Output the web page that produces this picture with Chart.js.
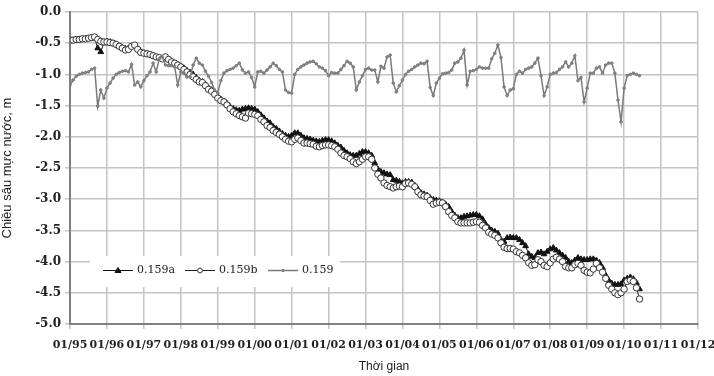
<!DOCTYPE html>
<html>
<head>
<meta charset="utf-8">
<script src="https://cdn.jsdelivr.net/npm/chart.js@4.4.1/dist/chart.umd.min.js"></script>
<style>
  html, body { margin: 0; padding: 0; background: #fff; }
  #wrap { width: 714px; height: 376px; position: relative; }
</style>
</head>
<body>
<div id="wrap"><canvas id="chart" width="714" height="376"></canvas></div>
<script>
// monthly readings, first value = 01/1995
const START_YEAR = 1995;
const xTickLabels = ['01/95', '01/96', '01/97', '01/98', '01/99', '01/00', '01/01', '01/02', '01/03',
  '01/04', '01/05', '01/06', '01/07', '01/08', '01/09', '01/10', '01/11', '01/12'];
const seriesNames = ['0.159a', '0.159b', '0.159'];

const level159a = [
  -0.46, -0.46, -0.45, -0.44, -0.44, -0.43, -0.43, -0.42, -0.42, -0.58, -0.64, -0.50,
  -0.47, -0.48, -0.50, -0.52, -0.55, -0.57, -0.59, -0.58, -0.55, -0.54, -0.59, -0.64,
  -0.66, -0.67, -0.68, -0.70, -0.72, -0.73, -0.75, -0.74, -0.76, -0.79, -0.82, -0.84,
  -0.87, -0.90, -0.94, -0.97, -1.00, -1.05, -1.10, -1.12, -1.16, -1.22, -1.25, -1.30,
  -1.35, -1.40, -1.43, -1.47, -1.52, -1.55, -1.57, -1.58, -1.56, -1.55, -1.54, -1.55,
  -1.56, -1.60, -1.65, -1.70, -1.75, -1.78, -1.84, -1.87, -1.91, -1.95, -1.98, -2.00,
  -1.98, -1.94, -1.94, -1.98, -2.02, -2.03, -2.04, -2.06, -2.07, -2.08, -2.06, -2.05,
  -2.05, -2.07, -2.10, -2.14, -2.17, -2.22, -2.26, -2.29, -2.30, -2.30, -2.27, -2.24,
  -2.24, -2.26, -2.30, -2.42, -2.52, -2.56, -2.58, -2.60, -2.61, -2.69, -2.70, -2.72,
  -2.74, -2.72, -2.72, -2.73, -2.78, -2.84, -2.90, -2.92, -2.94, -2.98, -3.01, -3.02,
  -3.03, -3.05, -3.08, -3.12, -3.20, -3.26, -3.30, -3.30, -3.28, -3.27, -3.26, -3.25,
  -3.25, -3.27, -3.32, -3.40, -3.46, -3.50, -3.52, -3.55, -3.65, -3.68, -3.62, -3.61,
  -3.62, -3.62, -3.65, -3.70, -3.75, -3.88, -3.92, -3.94, -3.86, -3.85, -3.88, -3.84,
  -3.80, -3.78, -3.82, -3.86, -3.90, -3.94, -4.00, -4.02, -3.98, -3.94, -3.96, -3.97,
  -3.97, -3.96, -3.96, -3.98, -4.02, -4.10, -4.22, -4.30, -4.35, -4.37, -4.37, -4.36,
  -4.30, -4.27, -4.25, -4.28, -4.34, -4.44
];

const level159b = [
  -0.45, -0.45, -0.44, -0.44, -0.43, -0.43, -0.42, -0.41, -0.40, -0.44, -0.47, -0.48,
  -0.48, -0.49, -0.50, -0.52, -0.55, -0.58, -0.61, -0.60, -0.55, -0.53, -0.60, -0.65,
  -0.66, -0.67, -0.68, -0.70, -0.72, -0.73, -0.75, -0.72, -0.76, -0.80, -0.82, -0.85,
  -0.88, -0.92, -0.96, -1.00, -1.04, -1.08, -1.12, -1.13, -1.18, -1.24, -1.27, -1.32,
  -1.38, -1.42, -1.44, -1.49, -1.55, -1.60, -1.63, -1.66, -1.68, -1.70, -1.62, -1.63,
  -1.64, -1.66, -1.72, -1.76, -1.82, -1.85, -1.90, -1.93, -1.96, -2.00, -2.04, -2.07,
  -2.08, -2.04, -2.02, -2.06, -2.10, -2.10, -2.11, -2.12, -2.15, -2.16, -2.14, -2.13,
  -2.13, -2.14, -2.16, -2.20, -2.26, -2.30, -2.32, -2.35, -2.40, -2.43, -2.40, -2.36,
  -2.32, -2.32, -2.36, -2.50, -2.60, -2.66, -2.74, -2.78, -2.80, -2.82, -2.80, -2.79,
  -2.80, -2.75, -2.74, -2.76, -2.80, -2.88, -2.93, -2.95, -2.96, -3.02, -3.08, -3.06,
  -3.05, -3.06, -3.12, -3.20, -3.26, -3.30, -3.36, -3.38, -3.38, -3.38, -3.38, -3.37,
  -3.36, -3.37, -3.42, -3.46, -3.53, -3.56, -3.58, -3.62, -3.70, -3.77, -3.79, -3.79,
  -3.80, -3.84, -3.86, -3.90, -3.94, -4.02, -4.06, -4.05, -3.97, -4.00, -4.06, -4.08,
  -4.02, -3.96, -3.93, -3.96, -4.00, -4.08, -4.10, -4.10, -4.05, -4.03, -4.06, -4.14,
  -4.17, -4.18, -4.12, -4.03, -4.10, -4.17, -4.27, -4.38, -4.44, -4.50, -4.53, -4.50,
  -4.44, -4.32, -4.30, -4.32, -4.42, -4.60
];

const level159 = [
  -1.17, -1.09, -1.03, -1.00, -0.98, -0.97, -0.96, -0.92, -0.90, -1.51, -1.25, -1.38,
  -1.22, -1.14, -1.06, -1.00, -0.97, -0.95, -0.94, -0.96, -0.84, -1.17, -1.12, -1.20,
  -1.10, -1.02, -0.96, -0.82, -0.96, -0.75, -0.72, -0.85, -0.86, -0.86, -0.88, -1.17,
  -0.96, -0.98, -1.04, -1.04, -0.85, -0.74, -0.82, -0.85, -0.95, -1.03, -1.13, -1.25,
  -1.30, -1.10, -0.98, -0.94, -0.92, -0.90, -0.86, -0.82, -0.93, -0.98, -0.96, -1.05,
  -1.20, -0.96, -0.95, -0.98, -0.93, -0.88, -0.82, -0.86, -0.92, -0.96, -1.25, -1.29,
  -1.30, -1.00, -0.92, -0.88, -0.85, -0.82, -0.80, -0.79, -0.83, -0.88, -0.90, -0.94,
  -1.02, -0.97, -0.98, -0.98, -0.92, -0.86, -0.79, -0.82, -0.88, -1.25, -1.12, -1.02,
  -0.92, -0.90, -0.93, -0.93, -1.12, -0.87, -0.90, -0.72, -0.69, -1.14, -1.28, -1.18,
  -1.09, -1.00, -0.95, -0.92, -0.88, -0.85, -0.82, -0.83, -0.79, -1.21, -1.34, -1.14,
  -1.06, -0.99, -0.98, -0.97, -0.93, -0.82, -0.80, -0.74, -0.61, -1.17, -0.95, -0.94,
  -0.92, -0.88, -0.90, -0.90, -0.90, -0.75, -0.66, -0.53, -0.73, -1.20, -1.34, -1.25,
  -1.23, -1.00, -0.95, -0.98, -0.92, -0.90, -0.88, -0.82, -0.74, -1.02, -1.34, -1.20,
  -1.00, -0.98, -0.97, -0.92, -0.88, -0.80, -0.88, -0.82, -0.70, -1.10, -1.05, -1.44,
  -1.22, -0.98, -0.98, -0.90, -0.88, -0.98, -0.85, -0.82, -0.82, -0.98, -1.41, -1.76,
  -1.22, -1.02, -1.00, -0.98, -1.00, -1.02
];

function toPoints(values) {
  return values.map(function (v, i) { return { x: START_YEAR + i / 12, y: v }; });
}

const X_TICK_FONT = { family: "'DejaVu Serif', serif", size: 11, weight: 'bold' };
const Y_TICK_FONT = { family: "'DejaVu Serif', serif", size: 12, weight: 'bold' };
const GRID = '#c4c4c4';

// legend drawn inside the plot, like the original
const insideLegend = {
  id: 'insideLegend',
  afterDraw(chart) {
    const ctx = chart.ctx;
    ctx.save();
    ctx.fillStyle = '#fff';
    ctx.fillRect(90, 256, 250, 31);
    const items = [
      { x: 103, ds: chart.data.datasets[0] },
      { x: 185, ds: chart.data.datasets[1] },
      { x: 268, ds: chart.data.datasets[2] }
    ];
    const y = 270.5;
    items.forEach(function (it, i) {
      ctx.strokeStyle = it.ds.borderColor;
      ctx.lineWidth = it.ds.borderWidth;
      ctx.beginPath();
      ctx.moveTo(it.x, y);
      ctx.lineTo(it.x + 30, y);
      ctx.stroke();
      const mx = it.x + 15;
      ctx.fillStyle = it.ds.pointBackgroundColor;
      ctx.strokeStyle = it.ds.pointBorderColor;
      ctx.lineWidth = 1;
      ctx.beginPath();
      if (it.ds.pointStyle === 'triangle') {
        ctx.moveTo(mx, y - 3);
        ctx.lineTo(mx + 3, y + 2);
        ctx.lineTo(mx - 3, y + 2);
        ctx.closePath();
      } else {
        ctx.arc(mx, y, Math.max(it.ds.pointRadius - 0.8, 1.2), 0, Math.PI * 2);
      }
      ctx.fill();
      ctx.stroke();
      ctx.fillStyle = '#222';
      ctx.font = "11px 'DejaVu Serif', serif";
      ctx.textBaseline = 'middle';
      ctx.fillText(seriesNames[i], it.x + 34, y);
    });
    ctx.restore();
  }
};

new Chart(document.getElementById('chart').getContext('2d'), {
  type: 'line',
  data: {
    datasets: [
      {
        label: seriesNames[0],
        data: toPoints(level159a),
        borderColor: '#111',
        borderWidth: 1,
        pointStyle: 'triangle',
        pointRadius: 3.3,
        pointBackgroundColor: '#111',
        pointBorderColor: '#111',
        pointBorderWidth: 1,
        order: 3
      },
      {
        label: seriesNames[1],
        data: toPoints(level159b),
        borderColor: '#222',
        borderWidth: 1,
        pointStyle: 'circle',
        pointRadius: 3.2,
        pointBackgroundColor: '#fff',
        pointBorderColor: '#333',
        pointBorderWidth: 1,
        order: 2
      },
      {
        label: seriesNames[2],
        data: toPoints(level159),
        borderColor: '#7a7a7a',
        borderWidth: 1.5,
        pointStyle: 'circle',
        pointRadius: 1.3,
        pointBackgroundColor: '#8a8a8a',
        pointBorderColor: '#7a7a7a',
        pointBorderWidth: 1,
        order: 1
      }
    ]
  },
  options: {
    responsive: false,
    animation: false,
    layout: { padding: { top: 12, right: 16, left: 0, bottom: 2 } },
    plugins: {
      legend: { display: false },
      tooltip: { enabled: false }
    },
    scales: {
      x: {
        type: 'linear',
        min: 1995,
        max: 2012,
        grid: { color: GRID, lineWidth: 1.5, tickLength: 5 },
        border: { color: '#808080', width: 2 },
        ticks: {
          stepSize: 1,
          autoSkip: false,
          maxRotation: 0,
          padding: 10,
          color: '#222',
          font: X_TICK_FONT,
          callback: function (v) { return xTickLabels[Math.round(v - START_YEAR)]; }
        },
        title: {
          display: true,
          text: 'Thời gian',
          color: '#222',
          padding: { top: 2, bottom: 0 },
          font: { family: "'Liberation Sans', Arial, sans-serif", size: 12 }
        },
        afterFit: function (scale) {
          scale.height = 50;
          scale.paddingLeft = 0;
          scale.paddingRight = 0;
        }
      },
      y: {
        min: -5,
        max: 0,
        grid: { color: GRID, lineWidth: 1.5, tickLength: 5 },
        border: { color: '#808080', width: 2 },
        ticks: {
          stepSize: 0.5,
          padding: 4,
          color: '#222',
          font: Y_TICK_FONT,
          callback: function (v) { return v.toFixed(1); }
        },
        title: {
          display: true,
          text: 'Chiều sâu mực nước, m',
          color: '#222',
          padding: { top: 0, bottom: 2 },
          font: { family: "'Liberation Sans', Arial, sans-serif", size: 13 }
        },
        afterFit: function (scale) {
          scale.width = 70;
          scale.paddingTop = 0;
          scale.paddingBottom = 0;
        }
      }
    }
  },
  plugins: [insideLegend]
});
</script>
</body>
</html>
